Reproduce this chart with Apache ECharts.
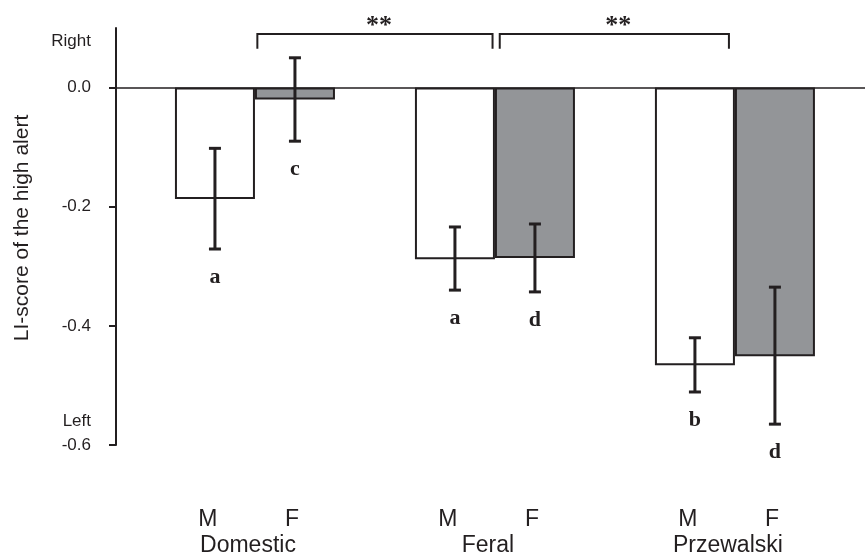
<!DOCTYPE html>
<html>
<head>
<meta charset="utf-8">
<script src="https://cdn.jsdelivr.net/npm/echarts@6/dist/echarts.min.js"></script>
<style>
  html, body { margin: 0; padding: 0; background: #ffffff; }
  #chart { width: 865px; height: 558px; }
</style>
</head>
<body>
<div id="chart"></div>
<script>
// Laterality index of the high-alert posture, by horse population and sex
const groups = ['Domestic', 'Feral', 'Przewalski'];
const sexes = ['M', 'F'];
const groupIndex = [0, 1, 2];

const maleMean = [-0.187, -0.288, -0.466];
const femaleMean = [-0.020, -0.286, -0.451];
const maleLow = [-0.271, -0.340, -0.511];
const maleHigh = [-0.102, -0.234, -0.420];
const femaleLow = [-0.090, -0.343, -0.565];
const femaleHigh = [0.050, -0.229, -0.335];
const maleLetters = ['a', 'a', 'b'];
const femaleLetters = ['c', 'd', 'd'];

const yTickValues = [-0.6, -0.4, -0.2, 0.0];

// significance brackets between populations (x in group units)
const bracketFrom = [0.01, 1.02];
const bracketTo = [0.99, 1.975];
const bracketTop = [0.09, 0.09];
const bracketLeg = [0.065, 0.065];
const bracketLabels = ['**', '**'];

const INK = '#231f20';
const GREY = '#939598';
const BAR_W = 80;
const SANS = 'Liberation Sans, Arial, Helvetica, sans-serif';
const SERIF = 'Liberation Serif, Times New Roman, serif';

function errorSeries(low, high, letters, shift) {
  return {
    type: 'custom',
    silent: true,
    clip: false,
    z: 5,
    data: groupIndex.map((g, i) => [g, low[i], high[i], letters[i]]),
    renderItem(params, api) {
      const lo = api.coord([api.value(0), api.value(1)]);
      const hi = api.coord([api.value(0), api.value(2)]);
      const x = lo[0] + shift;
      const cap = 6;
      const st = { stroke: INK, lineWidth: 3 };
      return {
        type: 'group',
        children: [
          { type: 'line', shape: { x1: x, y1: hi[1], x2: x, y2: lo[1] }, style: st },
          { type: 'line', shape: { x1: x - cap, y1: hi[1], x2: x + cap, y2: hi[1] }, style: st },
          { type: 'line', shape: { x1: x - cap, y1: lo[1], x2: x + cap, y2: lo[1] }, style: st },
          {
            type: 'text',
            x: x, y: lo[1] + 28,
            style: {
              text: letters[params.dataIndex],
              font: 'bold 22px ' + SERIF,
              fill: INK, align: 'center', verticalAlign: 'middle'
            }
          }
        ]
      };
    }
  };
}

const chart = echarts.init(document.getElementById('chart'), null, { renderer: 'canvas' });

chart.setOption({
  animation: false,
  backgroundColor: '#ffffff',
  grid: { left: 116, right: 0, top: 28, bottom: 113, containLabel: false },
  xAxis: {
    type: 'value',
    min: -0.579,
    max: 2.542,
    axisLine: { show: true, onZero: true, lineStyle: { color: INK, width: 1.5 } },
    axisTick: { show: false },
    axisLabel: { show: false },
    splitLine: { show: false }
  },
  yAxis: {
    type: 'value',
    min: -0.6,
    max: 0.1,
    interval: 0.2,
    axisLine: { show: true, onZero: false, lineStyle: { color: INK, width: 2 } },
    axisTick: { show: true, length: 7, customValues: yTickValues, lineStyle: { color: INK, width: 2 } },
    axisLabel: {
      customValues: yTickValues,
      margin: 25,
      color: INK,
      fontFamily: SANS,
      fontSize: 17,
      formatter: v => Number(v).toFixed(1)
    },
    splitLine: { show: false }
  },
  graphic: [
    {
      type: 'text', x: 22, y: 228, rotation: Math.PI / 2,
      style: { text: 'LI-score of the high alert', font: '21px ' + SANS, fill: INK, align: 'center', verticalAlign: 'middle' }
    },
    {
      type: 'text', x: 91, y: 41,
      style: { text: 'Right', font: '17px ' + SANS, fill: INK, align: 'right', verticalAlign: 'middle' }
    },
    {
      type: 'text', x: 91, y: 421,
      style: { text: 'Left', font: '17px ' + SANS, fill: INK, align: 'right', verticalAlign: 'middle' }
    }
  ],
  series: [
    {
      name: sexes[0],
      type: 'bar',
      barWidth: BAR_W,
      barGap: '0%',
      data: groupIndex.map((g, i) => [g, maleMean[i]]),
      itemStyle: { color: '#ffffff', borderColor: INK, borderWidth: 2 },
      silent: true
    },
    {
      name: sexes[1],
      type: 'bar',
      barWidth: BAR_W,
      barGap: '0%',
      data: groupIndex.map((g, i) => [g, femaleMean[i]]),
      itemStyle: { color: GREY, borderColor: INK, borderWidth: 2 },
      silent: true
    },
    errorSeries(maleLow, maleHigh, maleLetters, -BAR_W / 2),
    errorSeries(femaleLow, femaleHigh, femaleLetters, BAR_W / 2),
    {
      // sex and population labels under each pair of bars
      type: 'custom',
      silent: true,
      clip: false,
      data: groupIndex.map(g => [g, -0.6]),
      renderItem(params, api) {
        const p = api.coord([api.value(0), api.value(1)]);
        const st = (t, x, y) => ({
          type: 'text', x: x, y: y,
          style: { text: t, font: '23px ' + SANS, fill: INK, align: 'center', verticalAlign: 'middle' }
        });
        return {
          type: 'group',
          children: [
            st(sexes[0], p[0] - 47, p[1] + 75),
            st(sexes[1], p[0] + 37, p[1] + 75),
            st(groups[params.dataIndex], p[0] - 7, p[1] + 101)
          ]
        };
      }
    },
    {
      // significance brackets
      type: 'custom',
      silent: true,
      clip: false,
      data: bracketFrom.map((f, i) => [f, bracketTo[i], bracketTop[i], bracketLeg[i]]),
      renderItem(params, api) {
        const a = api.coord([api.value(0), api.value(2)]);
        const b = api.coord([api.value(1), api.value(2)]);
        const legA = api.coord([api.value(0), api.value(3)]);
        const st = { stroke: INK, lineWidth: 2, fill: null };
        return {
          type: 'group',
          children: [
            {
              type: 'polyline',
              shape: { points: [[a[0], legA[1]], a, b, [b[0], legA[1]]] },
              style: st
            },
            {
              type: 'text',
              x: (a[0] + b[0]) / 2 + 4, y: a[1] - 8,
              style: {
                text: bracketLabels[params.dataIndex],
                font: 'bold 26px ' + SERIF, fill: INK, align: 'center', verticalAlign: 'middle'
              }
            }
          ]
        };
      }
    }
  ]
});
</script>
</body>
</html>
